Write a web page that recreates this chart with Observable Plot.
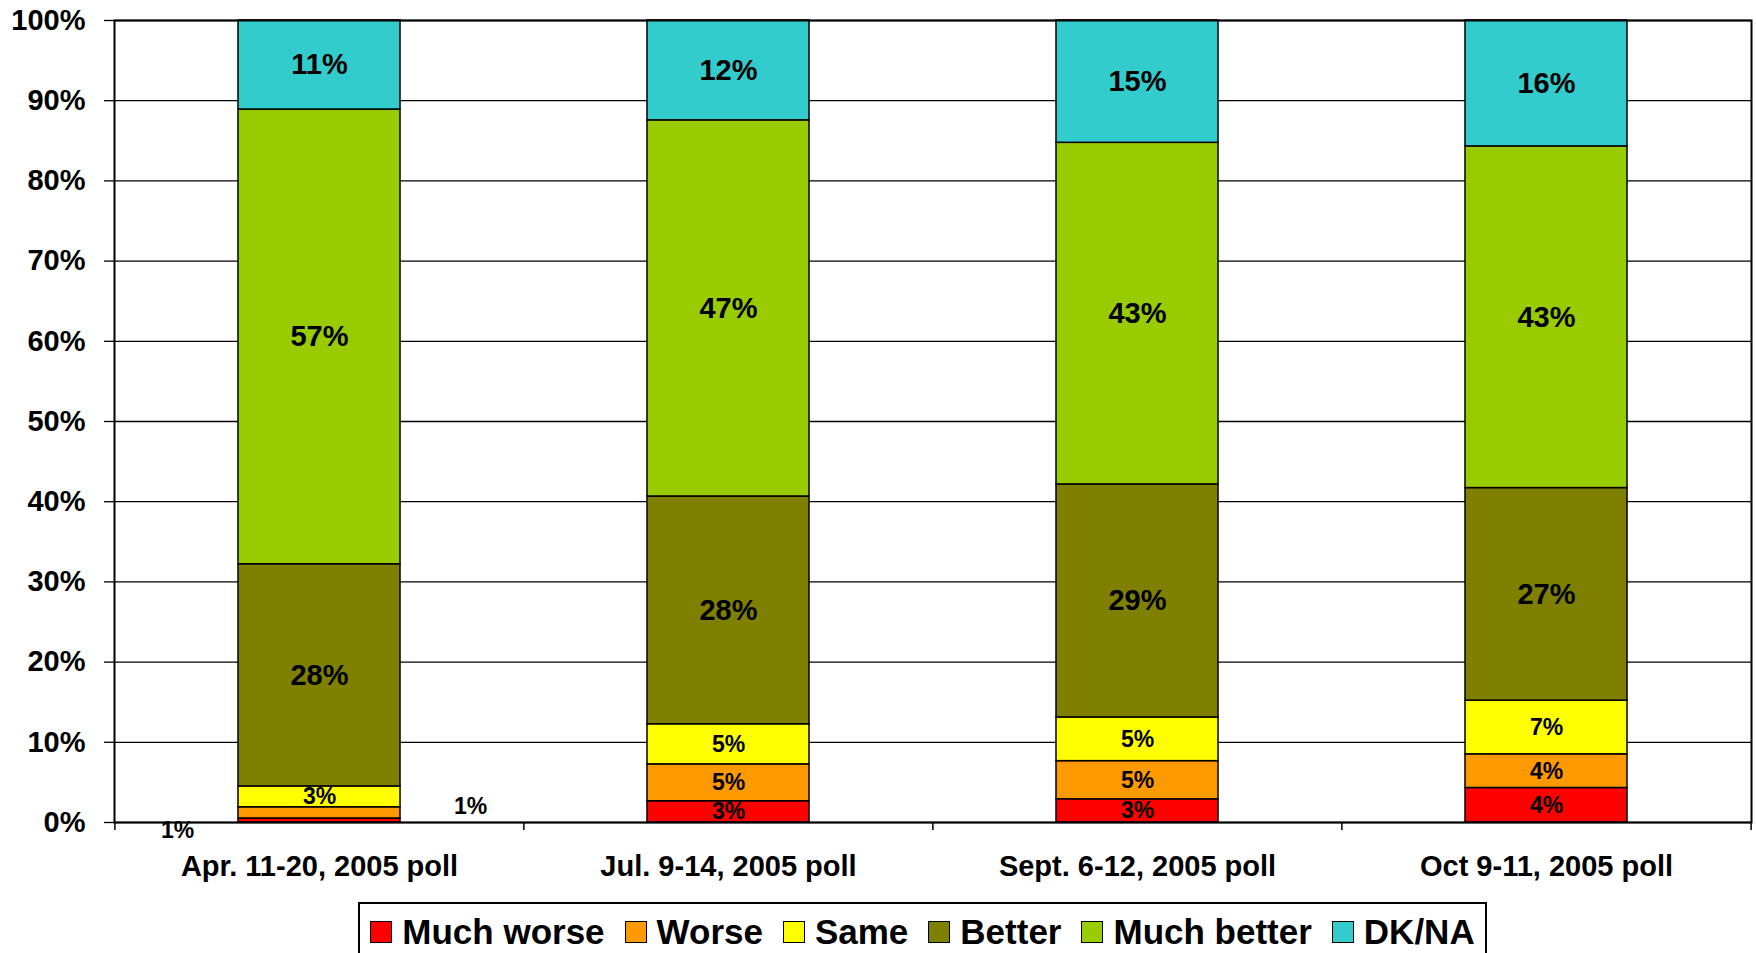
<!DOCTYPE html>
<html><head><meta charset="utf-8">
<script src="https://cdn.jsdelivr.net/npm/d3@7"></script>
<script src="https://cdn.jsdelivr.net/npm/@observablehq/plot@0.6"></script>
<style>
html,body{margin:0;padding:0;background:#fff;overflow:hidden;width:1756px;height:953px;}
#chart{position:absolute;left:0;top:0;}
#legend{position:absolute;left:358px;top:902px;width:1129px;height:80px;border:2px solid #000;box-sizing:border-box;background:#fff;
  display:flex;justify-content:center;align-items:flex-start;padding-top:8px;
  font-family:"Liberation Sans",Arial,sans-serif;font-weight:bold;font-size:35px;color:#000;}
.item{display:flex;align-items:center;margin:0 10px;white-space:nowrap;line-height:40px;}
.sw{width:20px;height:20px;border:1.5px solid #000;margin-right:10px;display:inline-block;}
</style>
</head><body>
<div id="chart"></div>
<div id="legend"></div>
<script>
const categories = ["Apr. 11-20, 2005 poll", "Jul. 9-14, 2005 poll", "Sept. 6-12, 2005 poll", "Oct 9-11, 2005 poll"];
const seriesNames = ["Much worse", "Worse", "Same", "Better", "Much better", "DK/NA"];
const colors = ["#FF0000", "#FF9900", "#FFFF00", "#808000", "#99CC00", "#33CCCC"];
const muchWorse  = [0.5, 2.65, 2.9, 4.3];
const worse      = [1.4, 4.6, 4.75, 4.2];
const same       = [2.6, 5.0, 5.45, 6.7];
const better     = [27.7, 28.4, 29.05, 26.5];
const muchBetter = [56.7, 46.9, 42.6, 42.6];
const dkna       = [11.1, 12.45, 15.25, 15.7];
const yTicks = [0, 10, 20, 30, 40, 50, 60, 70, 80, 90, 100];

const seriesValues = [muchWorse, worse, same, better, muchBetter, dkna];
const rows = categories.flatMap((c, i) => seriesNames.map((s, j) => ({category: c, series: s, value: seriesValues[j][i]})));

const W = 1756, H = 895, mL = 114, mR = 5, mT = 20, mB = 73;
const step = (W - mL - mR) / categories.length;
const font = "'Liberation Sans', Arial, sans-serif";
const fmt = d => Math.round(d.value) + "%";
const outsideL = d => d.category === categories[0] && d.series === "Much worse";
const outsideR = d => d.category === categories[0] && d.series === "Worse";
const isOutside = d => outsideL(d) || outsideR(d);
const stackOpts = {x: "category", y: "value", z: "series"};

const chart = Plot.plot({
  width: W, height: H,
  marginLeft: mL, marginRight: mR, marginTop: mT, marginBottom: mB,
  style: {fontFamily: font, fontWeight: "bold", background: "white", color: "black"},
  x: {domain: categories, paddingInner: 0.605, paddingOuter: 0.3025, axis: null},
  y: {domain: [0, 100], axis: null},
  color: {domain: seriesNames, range: colors},
  marks: [
    Plot.gridY(yTicks, {stroke: "black", strokeOpacity: 1, strokeWidth: 1.3}),
    Plot.axisY(yTicks, {tickSize: 10, tickPadding: 19, tickFormat: d => d + "%", fontSize: 29, label: null, strokeWidth: 1.3}),
    Plot.barY(rows, Plot.stackY({...stackOpts, fill: "series", stroke: "black", strokeWidth: 1.5})),
    Plot.text(rows, Plot.stackY({...stackOpts, text: d => (!isOutside(d) && d.value >= 10) ? fmt(d) : "", fontSize: 29, fill: "black"})),
    Plot.text(rows, Plot.stackY({...stackOpts, text: d => (!isOutside(d) && d.value < 10) ? fmt(d) : "", fontSize: 23, fill: "black"})),
    Plot.text(rows, Plot.stackY({...stackOpts, text: d => outsideL(d) ? fmt(d) : "", fontSize: 23, fill: "black", dx: -142, dy: 10})),
    Plot.text(rows, Plot.stackY({...stackOpts, text: d => outsideR(d) ? fmt(d) : "", fontSize: 23, fill: "black", dx: 151, dy: -6})),
    Plot.frame({stroke: "black", strokeWidth: 2}),
    Plot.axisX(categories, {tickSize: 0, tickPadding: 33, fontSize: 29, label: null}),
    Plot.ruleX(categories, {x: d => d, dx: -step / 2, y1: 0, y2: 0, insetBottom: -8, stroke: "black", strokeWidth: 1.5}),
    Plot.ruleX(categories.slice(-1), {x: d => d, dx: step / 2, y1: 0, y2: 0, insetBottom: -8, stroke: "black", strokeWidth: 1.5})
  ]
});
document.getElementById("chart").appendChild(chart);

const legend = document.getElementById("legend");
seriesNames.forEach((s, i) => {
  const item = document.createElement("div");
  item.className = "item";
  const sw = document.createElement("span");
  sw.className = "sw";
  sw.style.background = colors[i];
  item.appendChild(sw);
  item.appendChild(document.createTextNode(s));
  legend.appendChild(item);
});
</script>
</body></html>
